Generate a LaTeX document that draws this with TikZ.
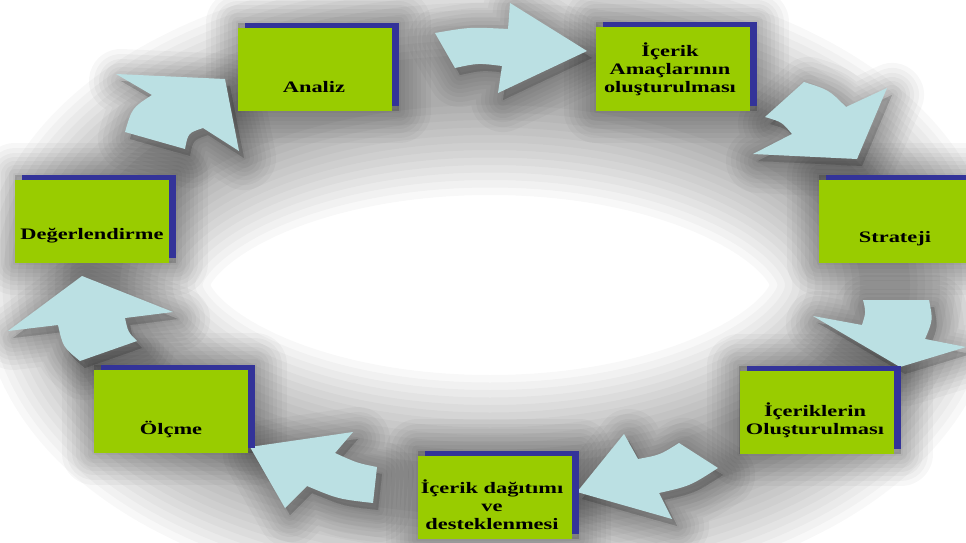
\documentclass[tikz,border=0pt]{standalone}
\usepackage{fontspec}
\newfontfamily\labfont[FakeStretch=1.4]{Liberation Serif}
\usetikzlibrary{shadows}
\definecolor{boxgreen}{HTML}{99CC00}
\definecolor{boxblue}{HTML}{333399}
\definecolor{arrowblue}{HTML}{BBE0E3}
\pgfdeclarelayer{bg}
\pgfsetlayers{bg,main}
\tikzset{
  greenbox/.style={rectangle, fill=boxgreen, minimum width=154pt, minimum height=83pt, inner sep=0pt,
    general shadow={fill=boxblue, shadow xshift=7pt, shadow yshift=5pt}},
  labeltext/.style={font=\labfont\bfseries\fontsize{16}{18}\selectfont, align=center, inner sep=0pt, text=black},
  cyclearrow/.style={fill=arrowblue, line join=miter},
  ringshade/.style={draw=black, draw opacity=0.028},
  softlayer/.style={draw=black, fill=black, draw opacity=0.032, fill opacity=0.02, line join=round, shift={(5,7)}}
}
\newcommand\arrowA{(435,33) -- (455,68) .. controls (478,63) .. (502,66) -- (498,93) -- (587,51) -- (510,3) -- (508,29) .. controls (470,27) .. cycle}
\newcommand\arrowB{(116,74) -- (225,79) -- (239,151) -- (203,128) .. controls (188,133) .. (185,149) -- (125,132) .. controls (132,108) .. (152,95) -- cycle}
\newcommand\arrowC{(887,88) -- (857,159) -- (753,154) -- (792,134) .. controls (782,122) .. (765,117) -- (804,82) .. controls (829,90) .. (846,107) -- cycle}
\newcommand\arrowD{(863,300) -- (929,300) .. controls (933,320) .. (925,339) -- (966,347) -- (900,367) -- (813,316) -- (862,325) .. controls (866,312) .. cycle}
\newcommand\arrowE{(624,434) -- (638,459) .. controls (660,455) .. (679,443) -- (718,468) .. controls (690,486) .. (659,493) -- (672,519) -- (577,492) -- cycle}
\newcommand\arrowF{(353,432) -- (335,453) .. controls (357,463) .. (377,467) -- (373,503) .. controls (338,499) .. (307,486) -- (285,508) -- (250,447) -- cycle}
\newcommand\arrowG{(82,276) -- (8,331) -- (58,325) .. controls (63,347) .. (80,361) -- (137,341) .. controls (128,332) .. (125,318) -- (173,312) -- cycle}
\begin{document}
\begin{tikzpicture}[x=1pt,y=-1pt]
\useasboundingbox (0,0) rectangle (966,543);
\begin{pgfonlayer}{bg}
\fill[white] (0,0) rectangle (966,543);
% soft ring shadow behind the cycle
\foreach \w in {230,215,200,185,170,155,140,125,110,95,80,65,50}{
  \draw[ringshade, line width=\w pt] (490,285) ellipse [x radius=395, y radius=205];
}
% soft shadows of the arrows
\foreach \w in {64,54,44,36,28,20,12,4}{
  \path[softlayer, line width=\w pt] \arrowA;
  \path[softlayer, line width=\w pt] \arrowB;
  \path[softlayer, line width=\w pt] \arrowC;
  \path[softlayer, line width=\w pt] \arrowD;
  \path[softlayer, line width=\w pt] \arrowE;
  \path[softlayer, line width=\w pt] \arrowF;
  \path[softlayer, line width=\w pt] \arrowG;
}
\end{pgfonlayer}
% arrows
\path[cyclearrow] \arrowA;
\path[cyclearrow] \arrowB;
\path[cyclearrow] \arrowC;
\path[cyclearrow] \arrowD;
\path[cyclearrow] \arrowE;
\path[cyclearrow] \arrowF;
\path[cyclearrow] \arrowG;
% boxes
\node[greenbox] (analiz) at (315,69.5) {};
\node[greenbox] (amac) at (673,69) {};
\node[greenbox] (strateji) at (896,221.5) {};
\node[greenbox] (icerikler) at (816.5,412.5) {};
\node[greenbox] (dagitim) at (495,497.5) {};
\node[greenbox] (olcme) at (171,411.5) {};
\node[greenbox] (deger) at (92,221.5) {};
% soft shadows of the boxes
\begin{pgfonlayer}{bg}
\foreach \b in {analiz,amac,strateji,icerikler,dagitim,olcme,deger}{
  \foreach \w in {64,54,44,36,28,20,12,4}{
    \path[softlayer, line width=\w pt] (\b.south west) rectangle ([shift={(7pt,5pt)}]\b.north east);
  }
}
\end{pgfonlayer}
% labels
\node[labeltext] (tanaliz) at (314,87) {Analiz};
\node[labeltext] (tamac) at (670,69) {İçerik\\Amaçlarının\\oluşturulması};
\node[labeltext] (tstrateji) at (895,239) {Strateji};
\node[labeltext] (ticerikler) at (815,420) {İçeriklerin\\Oluşturulması};
\node[labeltext] (tdagitim) at (492,505) {İçerik dağıtımı\\ve\\desteklenmesi};
\node[labeltext] (tolcme) at (171,429) {Ölçme};
\node[labeltext] (tdeger) at (92,236) {Değerlendirme};
\end{tikzpicture}
\end{document}
